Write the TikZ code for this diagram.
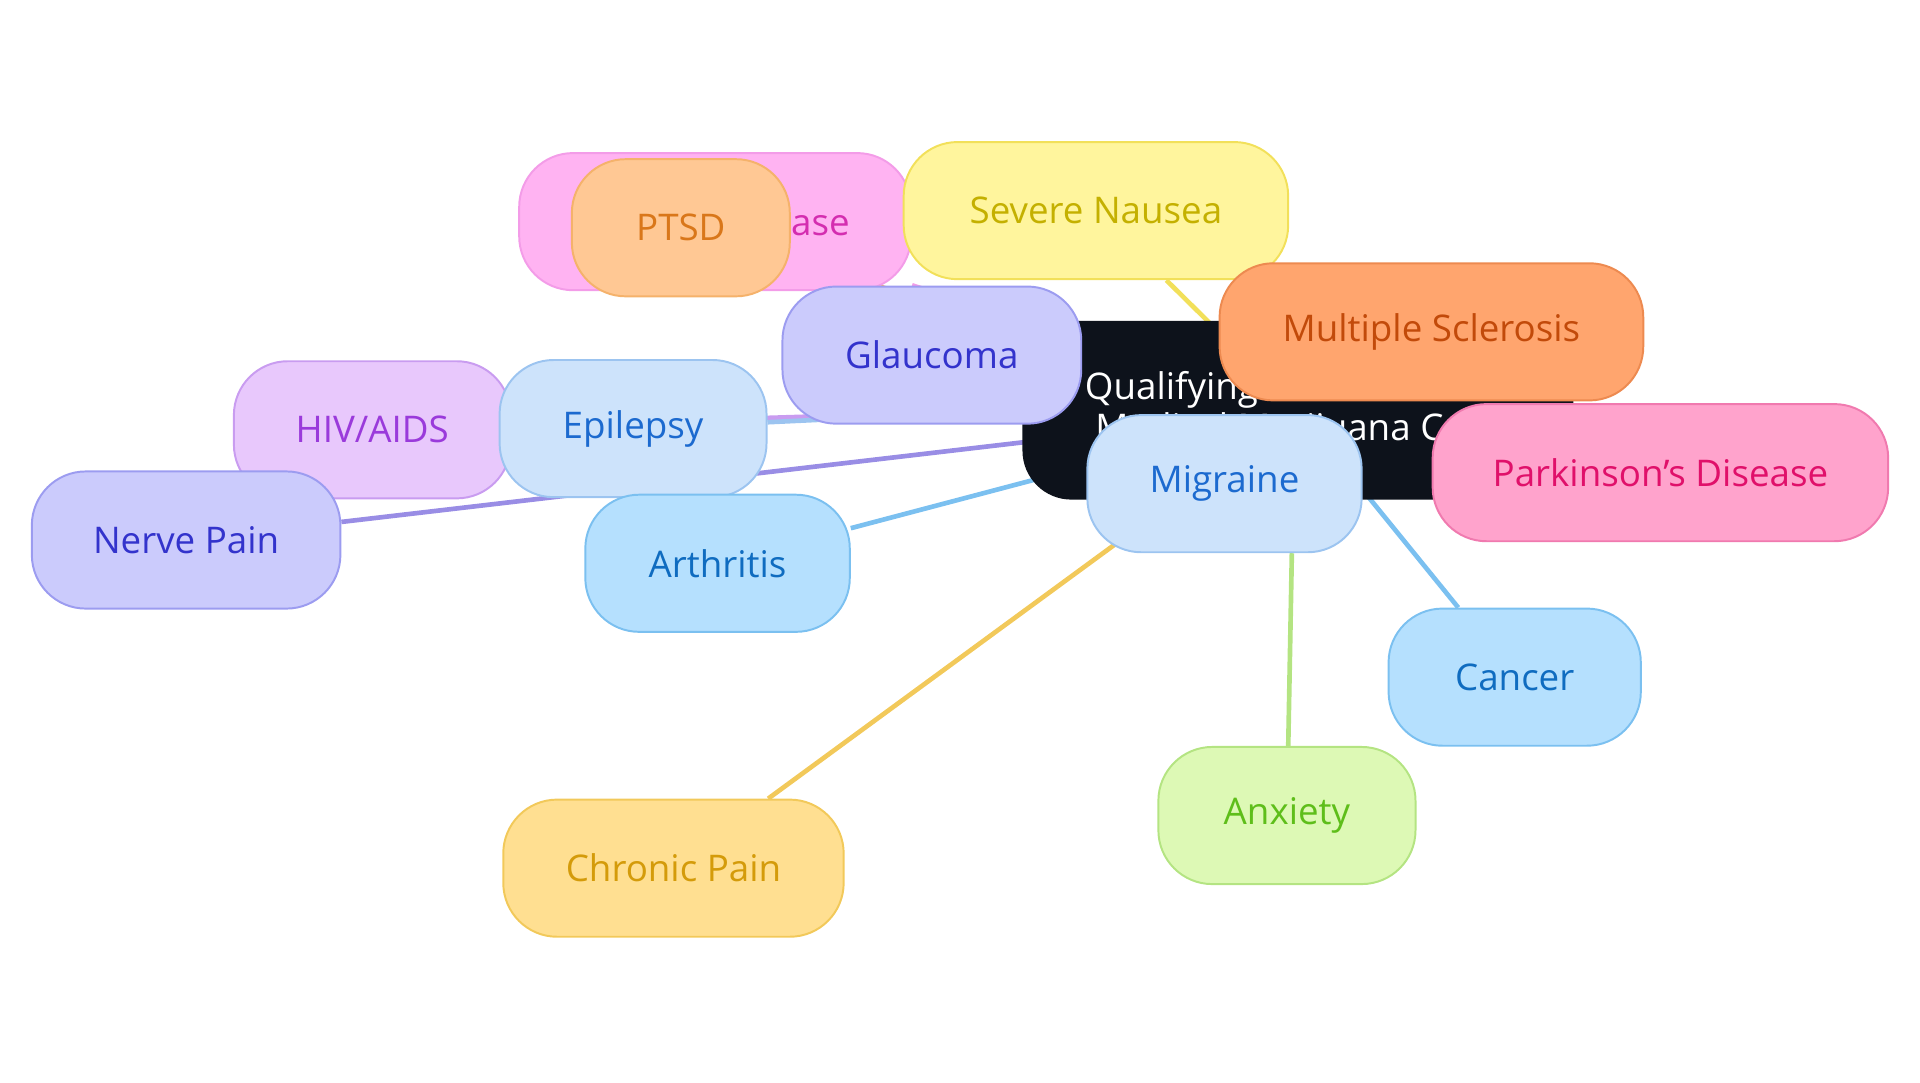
\documentclass[tikz,border=0pt]{standalone}
\usepackage{fontspec}
\setmainfont{Open Sans}
\usetikzlibrary{backgrounds}
\definecolor{cNight}{HTML}{0D121B}
\definecolor{fPink}{HTML}{FFB3F2}\definecolor{dPink}{HTML}{F39CE8}\definecolor{tPink}{HTML}{D42DB0}
\definecolor{fOrange}{HTML}{FFC894}\definecolor{dOrange}{HTML}{F5B26B}\definecolor{tOrange}{HTML}{D9771A}
\definecolor{fYellow}{HTML}{FFF59D}\definecolor{dYellow}{HTML}{F2E05A}\definecolor{tYellow}{HTML}{C4B000}
\definecolor{fIndigo}{HTML}{CBCBFC}\definecolor{dIndigo}{HTML}{9C9CF0}\definecolor{tIndigo}{HTML}{3333CC}
\definecolor{fCoral}{HTML}{FFA56E}\definecolor{dCoral}{HTML}{ED8A50}\definecolor{tCoral}{HTML}{C24A0A}
\definecolor{fViolet}{HTML}{E8C8FC}\definecolor{dViolet}{HTML}{C99CF0}\definecolor{tViolet}{HTML}{9A3ADB}
\definecolor{fPale}{HTML}{CDE3FB}\definecolor{dPale}{HTML}{9CC4F0}\definecolor{tPale}{HTML}{1C6ACF}
\definecolor{fRose}{HTML}{FFA3CC}\definecolor{dRose}{HTML}{F07AAF}\definecolor{tRose}{HTML}{E0106A}
\definecolor{fSky}{HTML}{B5E0FE}\definecolor{dSky}{HTML}{7BC0F0}\definecolor{tSky}{HTML}{0F6CC0}
\definecolor{fLime}{HTML}{DDF9B5}\definecolor{dLime}{HTML}{B4E482}\definecolor{tLime}{HTML}{5EBE1A}
\definecolor{fAmber}{HTML}{FFDF91}\definecolor{dAmber}{HTML}{F2C95A}\definecolor{tAmber}{HTML}{D49B0A}
\begin{document}
\begin{tikzpicture}[x=0.5pt,y=-0.5pt]
  \tikzset{leaf/.style 2 args = {draw=d#1,fill=f#1,text=t#1,line width=0.8pt,rounded corners=22pt,
      minimum height=56pt,minimum width=#2,font=\fontsize{15}{18}\selectfont,inner sep=0pt}}
  \tikzset{link/.style = {line width=1.9pt}}
\useasboundingbox (0,0) rectangle (1568,884.4);

\node[fill=cNight,text=white,rounded corners=20pt,minimum width=225pt,minimum height=73pt,
  align=center,font=\fontsize{15}{17}\selectfont] (root) at (1060,335)
  {Qualifying Conditions for\\Medical Marijuana Card};
\node[leaf={Pink}{160pt}] (crohn) at (584,181) {Crohn's Disease};
\node[leaf={Orange}{89pt}] (ptsd) at (556,186) {PTSD};
\node[leaf={Yellow}{157pt}] (nausea) at (895,172) {Severe Nausea};
\node[leaf={Indigo}{122pt}] (glaucoma) at (761,290) {Glaucoma};
\node[leaf={Coral}{173pt}] (ms) at (1169,271) {Multiple Sclerosis};
\node[leaf={Violet}{113pt}] (hiv) at (304,351) {HIV/AIDS};
\node[leaf={Pale}{109pt}] (epilepsy) at (517,350) {Epilepsy};
\node[leaf={Rose}{186pt}] (parkinson) at (1356,386) {Parkinson's Disease};
\node[leaf={Pale}{112pt}] (migraine) at (1000,395) {Migraine};
\node[leaf={Indigo}{126pt}] (nerve) at (152,441) {Nerve Pain};
\node[leaf={Sky}{108pt}] (arthritis) at (586,460) {Arthritis};
\node[leaf={Sky}{103pt}] (cancer) at (1237,553) {Cancer};
\node[leaf={Lime}{105pt}] (anxiety) at (1051,666) {Anxiety};
\node[leaf={Amber}{139pt}] (chronic) at (550,709) {Chronic Pain};

\begin{scope}[on background layer]
  \draw[link,dPink] (root.center) -- (crohn);
  \draw[link,dOrange] (root.center) -- (ptsd);
  \draw[link,dYellow] (root.center) -- (nausea);
  \draw[link,dIndigo] (root.center) -- (glaucoma);
  \draw[link,dCoral] (root.center) -- (ms);
  \draw[link,dViolet] (root.west) -- (hiv);
  \draw[link,dPale] (root.west) -- (epilepsy);
  \draw[link,dRose] (root.center) -- (parkinson);
  \draw[link,dPale] (root.center) -- (migraine);
  \draw[link,dIndigo!90!violet] (root.center) -- (nerve);
  \draw[link,dSky] (root.center) -- (arthritis);
  \draw[link,dSky] (root.center) -- (cancer);
  \draw[link,dLime] (migraine.south -| anxiety.north) ++(4,0) -- (anxiety);
  \draw[link,dAmber] (root.center) -- (chronic);
\end{scope}
\end{tikzpicture}
\end{document}
